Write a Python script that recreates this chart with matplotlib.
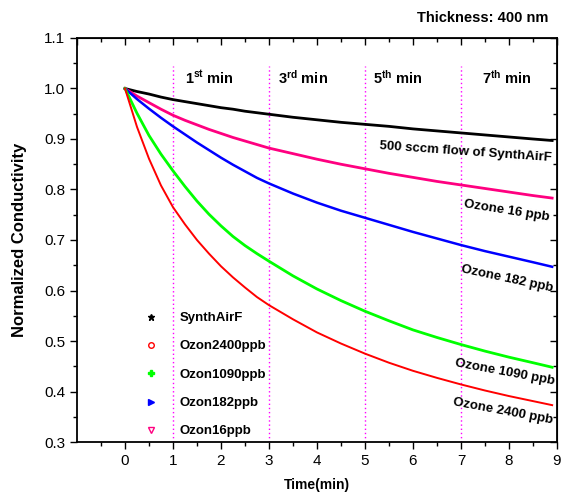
import matplotlib
matplotlib.use("Agg")
import matplotlib.pyplot as plt
from matplotlib.lines import Line2D

plt.rcParams['font.family'] = ['Liberation Sans', 'DejaVu Sans']
plt.rcParams['mathtext.fontset'] = 'custom'
plt.rcParams['mathtext.rm'] = 'Liberation Sans'
plt.rcParams['mathtext.bf'] = 'Liberation Sans:bold'

#----data
t = [0, 0.25, 0.5, 0.75, 1, 1.25, 1.5, 1.75, 2, 2.25, 2.5, 2.75, 3,
     3.5, 4, 4.5, 5, 5.5, 6, 6.5, 7, 7.5, 8, 8.5, 8.9]
synth = [1.0, 0.994, 0.989, 0.983, 0.978, 0.974, 0.970, 0.966, 0.962, 0.959, 0.955, 0.952, 0.949,
         0.943, 0.938, 0.933, 0.929, 0.925, 0.920, 0.916, 0.912, 0.908, 0.904, 0.900, 0.897]
ozon16 = [1.0, 0.985, 0.972, 0.959, 0.947, 0.937, 0.928, 0.919, 0.911, 0.903, 0.896, 0.889, 0.882,
          0.871, 0.860, 0.850, 0.841, 0.832, 0.824, 0.816, 0.809, 0.802, 0.795, 0.788, 0.783]
ozon182 = [1.0, 0.979, 0.960, 0.942, 0.925, 0.909, 0.893, 0.878, 0.863, 0.849, 0.836, 0.823, 0.812,
           0.792, 0.774, 0.758, 0.744, 0.730, 0.716, 0.703, 0.690, 0.678, 0.667, 0.656, 0.647]
ozon1090 = [1.0, 0.951, 0.907, 0.870, 0.837, 0.806, 0.777, 0.751, 0.728, 0.707, 0.689, 0.673, 0.658,
            0.629, 0.603, 0.580, 0.559, 0.540, 0.522, 0.507, 0.493, 0.480, 0.468, 0.457, 0.448]
ozon2400 = [1.0, 0.924, 0.861, 0.808, 0.765, 0.731, 0.700, 0.673, 0.648, 0.626, 0.606, 0.587, 0.571,
            0.543, 0.517, 0.495, 0.475, 0.457, 0.441, 0.427, 0.414, 0.402, 0.391, 0.381, 0.373]

minute_marks = [1, 3, 5, 7]
minute_texts = [r"$\mathbf{1^{st}}$ min", r"$\mathbf{3^{rd}}$ min",
                r"$\mathbf{5^{th}}$ min", r"$\mathbf{7^{th}}$ min"]
minute_text_x = [1.26, 3.18, 5.16, 7.43]

legend_names = ["SynthAirF", "Ozon2400ppb", "Ozon1090ppb", "Ozon182ppb", "Ozon16ppb"]

#----figure
fig = plt.figure(figsize=(5.64, 4.92), dpi=100)
ax = fig.add_axes([0.1365, 0.1016, 0.851, 0.8212])

ax.vlines(minute_marks, 0.3, 1.045, colors="#FF00FF", linestyles=(0, (1, 2)), lw=1.0)

ax.plot(t, synth, color="black", lw=2.0)
ax.plot(t, ozon16, color="#FF0080", lw=2.0)
ax.plot(t, ozon182, color="#0000FF", lw=1.8)
ax.plot(t, ozon1090, color="#00FF00", lw=2.0)
ax.plot(t, ozon2400, color="#FF0000", lw=1.4)

for xm, txt in zip(minute_text_x, minute_texts):
    ax.text(xm, 1.01, txt, fontsize=10.5, fontweight="bold", ha="left", va="baseline")

# curve labels
ax.text(7.10, 0.875, "500 sccm flow of SynthAirF", fontsize=9.5, fontweight="bold",
        rotation=-4, ha="center", va="center", rotation_mode="anchor")
ax.text(7.95, 0.758, "Ozone 16 ppb", fontsize=9.5, fontweight="bold",
        rotation=-9, ha="center", va="center", rotation_mode="anchor")
ax.text(7.97, 0.624, "Ozone 182 ppb", fontsize=9.5, fontweight="bold",
        rotation=-12, ha="center", va="center", rotation_mode="anchor")
ax.text(7.91, 0.438, "Ozone 1090 ppb", fontsize=9.5, fontweight="bold",
        rotation=-10.5, ha="center", va="center", rotation_mode="anchor")
ax.text(7.87, 0.360, "Ozone 2400 ppb", fontsize=9.5, fontweight="bold",
        rotation=-10.5, ha="center", va="center", rotation_mode="anchor")

# legend (markers only)
handles = [
    Line2D([], [], ls="none", marker="*", ms=5, color="black"),
    Line2D([], [], ls="none", marker="o", ms=4, mfc="none", mec="#FF0000", mew=1),
    Line2D([], [], ls="none", marker="P", ms=5, color="#00FF00"),
    Line2D([], [], ls="none", marker=">", ms=4.5, color="#0000FF"),
    Line2D([], [], ls="none", marker="v", ms=4.5, mfc="none", mec="#FF0080", mew=1),
]
ax.legend(handles, legend_names, loc="upper left", bbox_to_anchor=(0.14, 0.322),
          frameon=False, borderpad=0, borderaxespad=0, handlelength=1.0,
          handletextpad=1.7, labelspacing=1.22, prop={"weight": "bold", "size": 9.5})

ax.set_xlim(-1, 9)
ax.set_ylim(0.3, 1.1)
ax.set_xticks(range(0, 10))
ax.set_xticks([x * 0.5 for x in range(-1, 19, 2)], minor=True)
ax.set_yticks([0.3 + 0.1 * i for i in range(9)])
ax.set_yticklabels([f"{0.3 + 0.1 * i:.1f}" for i in range(9)])
ax.set_yticks([0.35 + 0.1 * i for i in range(8)], minor=True)
ax.tick_params(which="major", direction="out", length=5, width=1, labelsize=11)
ax.tick_params(which="minor", direction="out", length=3, width=1)
for s in ax.spines.values():
    s.set_linewidth(1.3)

top = ax.secondary_xaxis("top")
top.set_xticks(range(-1, 10))
top.set_xticks([x * 0.5 for x in range(-1, 19, 2)], minor=True)
top.tick_params(which="major", direction="in", length=5, width=1, labeltop=False)
top.tick_params(which="minor", direction="in", length=3, width=1)
right = ax.secondary_yaxis("right")
right.set_yticks([0.3 + 0.1 * i for i in range(9)])
right.set_yticks([0.35 + 0.1 * i for i in range(8)], minor=True)
right.tick_params(which="major", direction="in", length=5, width=1, labelright=False)
right.tick_params(which="minor", direction="in", length=3, width=1)

ax.set_xlabel("Time(min)", fontsize=10, fontweight="bold", labelpad=7)
ax.set_ylabel("Normalized Conductivity", fontsize=12, fontweight="bold", labelpad=12)

fig.text(0.972, 0.963, "Thickness: 400 nm", fontsize=10.5, fontweight="bold", ha="right", va="center")

fig.savefig("out.png", dpi=100)
